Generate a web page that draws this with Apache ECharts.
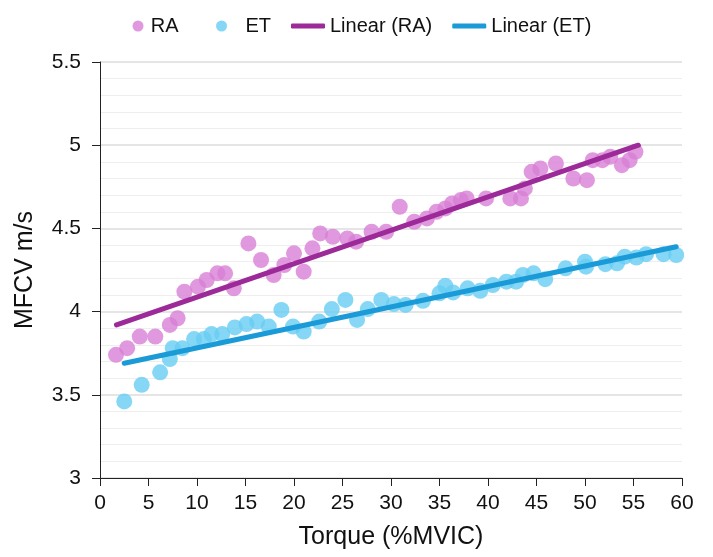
<!DOCTYPE html>
<html>
<head>
<meta charset="utf-8">
<script src="https://cdn.jsdelivr.net/npm/echarts@6/dist/echarts.min.js"></script>
<style>
  html, body { margin: 0; padding: 0; background: #fff; }
  #main { width: 713px; height: 557px; }
</style>
</head>
<body>
<div id="main"></div>
<script>
    // RA points [torque, mfcv]
    var raPoints = [
        [1.65, 3.74], [2.8, 3.78], [4.1, 3.85], [5.7, 3.85], [7.2, 3.92], [8.0, 3.96],
        [8.7, 4.12], [10.1, 4.15], [11.0, 4.19], [12.1, 4.23], [12.9, 4.23], [13.8, 4.14],
        [15.3, 4.41], [16.6, 4.31], [17.9, 4.22], [19.0, 4.28], [20.0, 4.35], [21.0, 4.24],
        [21.9, 4.38], [22.7, 4.47], [24.0, 4.45], [25.5, 4.44], [26.4, 4.42], [28.0, 4.48],
        [29.5, 4.48], [30.9, 4.63], [32.4, 4.54], [33.7, 4.56], [34.7, 4.60], [35.6, 4.62],
        [36.3, 4.65], [37.2, 4.67], [37.8, 4.68], [39.8, 4.68], [42.3, 4.68], [43.4, 4.68],
        [43.8, 4.74], [44.5, 4.84], [45.4, 4.86], [47.0, 4.89], [48.8, 4.80], [50.2, 4.79],
        [50.8, 4.91], [51.8, 4.91], [52.6, 4.93], [53.8, 4.88], [54.6, 4.91], [55.2, 4.96]
    ];
    // ET points [torque, mfcv]
    var etPoints = [
        [2.5, 3.46], [4.3, 3.56], [6.2, 3.635], [7.2, 3.715], [7.5, 3.78], [8.5, 3.78],
        [9.7, 3.835], [10.7, 3.835], [11.5, 3.865], [12.6, 3.865], [13.9, 3.905], [15.1, 3.925],
        [16.2, 3.94], [17.4, 3.91], [18.7, 4.01], [19.9, 3.91], [21.0, 3.88], [22.6, 3.94],
        [23.9, 4.015], [25.3, 4.07], [26.5, 3.95], [27.6, 4.015], [29.0, 4.07], [30.3, 4.045],
        [31.5, 4.04], [33.3, 4.065], [35.0, 4.11], [35.6, 4.155], [36.4, 4.115], [37.9, 4.14],
        [39.2, 4.125], [40.5, 4.16], [41.9, 4.18], [42.9, 4.18], [43.6, 4.22], [44.7, 4.23],
        [45.9, 4.195], [48.0, 4.26], [50.0, 4.30], [50.1, 4.27], [52.1, 4.285], [53.3, 4.29],
        [54.1, 4.33], [55.3, 4.325], [56.3, 4.345], [58.1, 4.345], [59.4, 4.34]
    ];
    // trend line end points
    var raTrend = [[1.7, 3.92], [55.5, 5.0]];
    var etTrend = [[2.5, 3.69], [59.4, 4.39]];

    var xTicks = { min: 0, max: 60, interval: 5 };
    var yTicks = { min: 3, max: 5.5, interval: 0.5 };

    var font = 'Liberation Sans, Arial, Helvetica, sans-serif';
    var myChart = echarts.init(document.getElementById('main'));

    var legendText = { fontSize: 20, color: '#111', fontFamily: font };

    myChart.setOption({
        animation: false,
        textStyle: { fontFamily: font },
        grid: { left: 100, right: 31, top: 62, bottom: 79 },
        legend: [
            {
                // scatter markers
                top: 16, left: 132.5, padding: 0,
                itemGap: 37.5, itemWidth: 15.5, itemHeight: 11,
                textStyle: legendText,
                formatter: function (name) { return name === 'ET' ? '  ET' : name; },
                data: [
                    { name: 'RA', icon: 'circle' },
                    { name: 'ET', icon: 'circle' }
                ]
            },
            {
                // trend lines
                top: 16, left: 291, padding: 0,
                itemGap: 20, itemWidth: 34, itemHeight: 5,
                textStyle: legendText,
                data: [
                    { name: 'Linear (RA)', icon: 'roundRect' },
                    { name: 'Linear (ET)', icon: 'roundRect' }
                ]
            }
        ],
        xAxis: {
            type: 'value',
            min: xTicks.min, max: xTicks.max, interval: xTicks.interval,
            name: 'Torque (%MVIC)',
            nameLocation: 'middle',
            nameGap: 47,
            nameTextStyle: { fontSize: 25, color: '#111' },
            axisLine: { onZero: false, lineStyle: { color: '#222', width: 1 } },
            axisTick: { show: true, length: 8, lineStyle: { color: '#222' } },
            axisLabel: { fontSize: 21, color: '#111', margin: 15 },
            splitLine: { show: false }
        },
        yAxis: {
            type: 'value',
            min: yTicks.min, max: yTicks.max, interval: yTicks.interval,
            name: 'MFCV m/s',
            nameLocation: 'middle',
            nameGap: 62,
            nameTextStyle: { fontSize: 25, color: '#111' },
            axisLine: { show: true, lineStyle: { color: '#222', width: 1 } },
            axisTick: { show: true, length: 8, lineStyle: { color: '#222' } },
            axisLabel: { fontSize: 21, color: '#111', margin: 19 },
            splitLine: { show: true, lineStyle: { color: '#dcdcdc', width: 1.5 } },
            minorTick: { show: false, splitNumber: 5 },
            minorSplitLine: { show: true, lineStyle: { color: '#eeeeee', width: 1 } }
        },
        series: [
            {
                name: 'RA', type: 'scatter', data: raPoints, symbolSize: 16,
                itemStyle: { color: '#d880d6', opacity: 0.8 }, z: 3
            },
            {
                name: 'ET', type: 'scatter', data: etPoints, symbolSize: 16,
                itemStyle: { color: '#66cdf2', opacity: 0.8 }, z: 3
            },
            {
                name: 'Linear (RA)', type: 'line', data: raTrend, showSymbol: false, symbol: 'none',
                lineStyle: { color: '#9c2a98', width: 5, cap: 'round' },
                itemStyle: { color: '#9c2a98' }, z: 4
            },
            {
                name: 'Linear (ET)', type: 'line', data: etTrend, showSymbol: false, symbol: 'none',
                lineStyle: { color: '#1a9ad6', width: 5, cap: 'round' },
                itemStyle: { color: '#1a9ad6' }, z: 4
            }
        ]
    });
</script>
</body>
</html>
